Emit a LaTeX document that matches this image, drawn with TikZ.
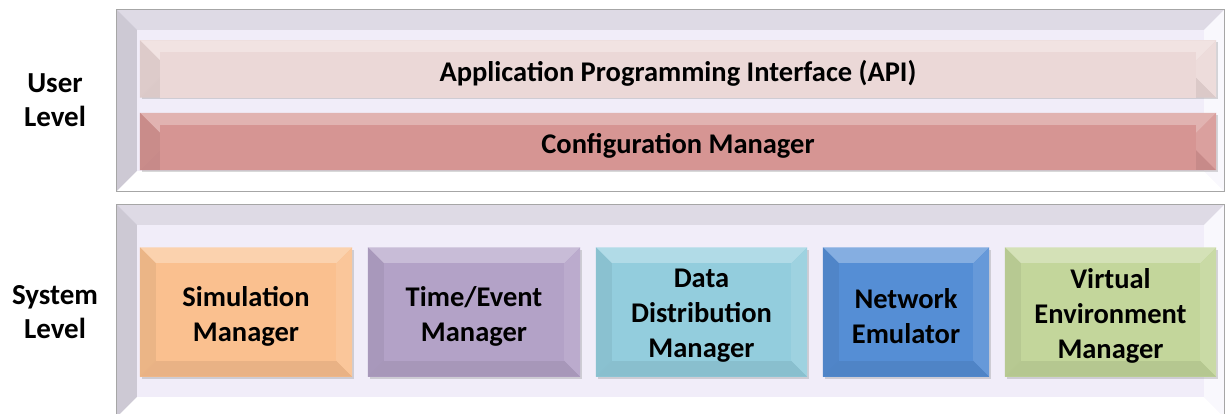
\documentclass[tikz,border=0pt]{standalone}
\usepackage{fontspec}
\setmainfont{Carlito}
\usetikzlibrary{shadows}

\definecolor{framecol}{HTML}{F1EDF9}
\definecolor{apicol}{HTML}{EBD8D7}
\definecolor{confcol}{HTML}{D69593}
\definecolor{simcol}{HTML}{FAC08F}
\definecolor{timecol}{HTML}{B3A2C7}
\definecolor{datacol}{HTML}{93CDDD}
\definecolor{netcol}{HTML}{558ED5}
\definecolor{vecol}{HTML}{C3D69B}

% raised bevel on a node: node name, depth, colour
\newcommand\bevelup[3]{%
	\fill[#3!72!white] (#1.north west) -- (#1.north east) -- ([xshift=-#2,yshift=-#2]#1.north east) -- ([xshift=#2,yshift=-#2]#1.north west) -- cycle;
	\fill[#3!94!black] (#1.north west) -- ([xshift=#2,yshift=-#2]#1.north west) -- ([xshift=#2,yshift=#2]#1.south west) -- (#1.south west) -- cycle;
	\fill[#3!93!black] (#1.south west) -- ([xshift=#2,yshift=#2]#1.south west) -- ([xshift=-#2,yshift=#2]#1.south east) -- (#1.south east) -- cycle;
	\fill[#3!90!white] (#1.north east) -- ([xshift=-#2,yshift=-#2]#1.north east) -- ([xshift=-#2,yshift=#2]#1.south east) -- (#1.south east) -- cycle;
}
% sunken bevel for the two level frames
\newcommand\bevelin[2]{%
	\fill[black!8!framecol] (#1.north west) -- (#1.north east) -- ([xshift=-#2,yshift=-#2]#1.north east) -- ([xshift=#2,yshift=-#2]#1.north west) -- cycle;
	\fill[black!15!framecol] (#1.north west) -- ([xshift=#2,yshift=-#2]#1.north west) -- ([xshift=#2,yshift=#2]#1.south west) -- (#1.south west) -- cycle;
	\fill[white] (#1.south west) -- ([xshift=#2,yshift=#2]#1.south west) -- ([xshift=-#2,yshift=#2]#1.south east) -- (#1.south east) -- cycle;
	\fill[white!60!framecol] (#1.north east) -- ([xshift=-#2,yshift=-#2]#1.north east) -- ([xshift=-#2,yshift=#2]#1.south east) -- (#1.south east) -- cycle;
	\draw[black!35, line width = 0.8pt] (#1.north west) rectangle (#1.south east);
}

\tikzset{
	frame/.style = {fill = framecol, minimum width = 1107pt, inner sep = 0pt},
	bar/.style = {fill = #1, minimum width = 1076pt, minimum height = 57pt, inner sep = 0pt,
		drop shadow = {opacity = 0.3, shadow xshift = 2pt, shadow yshift = -2pt}},
	block/.style = {fill = #1, align = center, inner sep = 0pt,
		drop shadow = {opacity = 0.3, shadow xshift = 2pt, shadow yshift = -2pt}},
	level/.style = {align = center, font = \bfseries\fontsize{29}{34}\selectfont},
	label/.style = {font = \bfseries\fontsize{28.5}{35}\selectfont, align = center, yshift = -4pt}
}

\begin{document}
\begin{tikzpicture}[x = 1pt, y = -1pt]
	\useasboundingbox ( 0, 0 ) rectangle ( 1225, 414 );
	\fill[white] ( 0, 0 ) rectangle ( 1225, 414 );

	% the two levels
	\node[frame, minimum height = 181pt] (userframe) at ( 670.5, 100.5 ) {};
	\bevelin{userframe}{20pt}
	\node[frame, minimum height = 212pt] (sysframe) at ( 670.5, 311 ) {};
	\bevelin{sysframe}{20pt}
	\fill[framecol] ([xshift=20pt,yshift=-20pt]userframe.north west) rectangle ([xshift=-20pt,yshift=20pt]userframe.south east);
	\fill[framecol] ([xshift=20pt,yshift=-20pt]sysframe.north west) rectangle ([xshift=-20pt,yshift=20pt]sysframe.south east);

	\node[level] (user) at ( 55, 100 ) {User\\Level};
	\node[level] (system) at ( 55, 312 ) {System\\Level};

	% user level
	\node[bar = apicol] (api) at ( 678, 69 ) {};
	\bevelup{api}{20pt}{apicol}
	\fill[apicol] ([xshift=20pt,yshift=-12pt]api.north west) rectangle ([xshift=-20pt]api.south east);
	\node[label] (apitext) at (api) {Application Programming Interface (API)};

	\node[bar = confcol] (conf) at ( 678, 141.5 ) {};
	\bevelup{conf}{20pt}{confcol}
	\fill[confcol] ([xshift=20pt,yshift=-12pt]conf.north west) rectangle ([xshift=-20pt]conf.south east);
	\node[label] (conftext) at (conf) {Configuration Manager};

	% system level
	\foreach \name/\col/\x/\w/\txt in {
		sim/simcol/246/212/{Simulation\\Manager},
		time/timecol/474/212/{Time/Event\\Manager},
		data/datacol/701.5/211/{Data\\Distribution\\Manager},
		net/netcol/906/166/{Network\\Emulator},
		ve/vecol/1110.5/211/{Virtual\\Environment\\Manager}} {
		\node[block = \col, minimum width = \w pt, minimum height = 129pt] (\name) at ( \x, 312 ) {};
		\bevelup{\name}{16pt}{\col}
		\fill[\col] ([xshift=16pt,yshift=-16pt]\name.north west) rectangle ([xshift=-16pt,yshift=16pt]\name.south east);
		\node[label] (\name text) at (\name) {\txt};
	}
\end{tikzpicture}
\end{document}
